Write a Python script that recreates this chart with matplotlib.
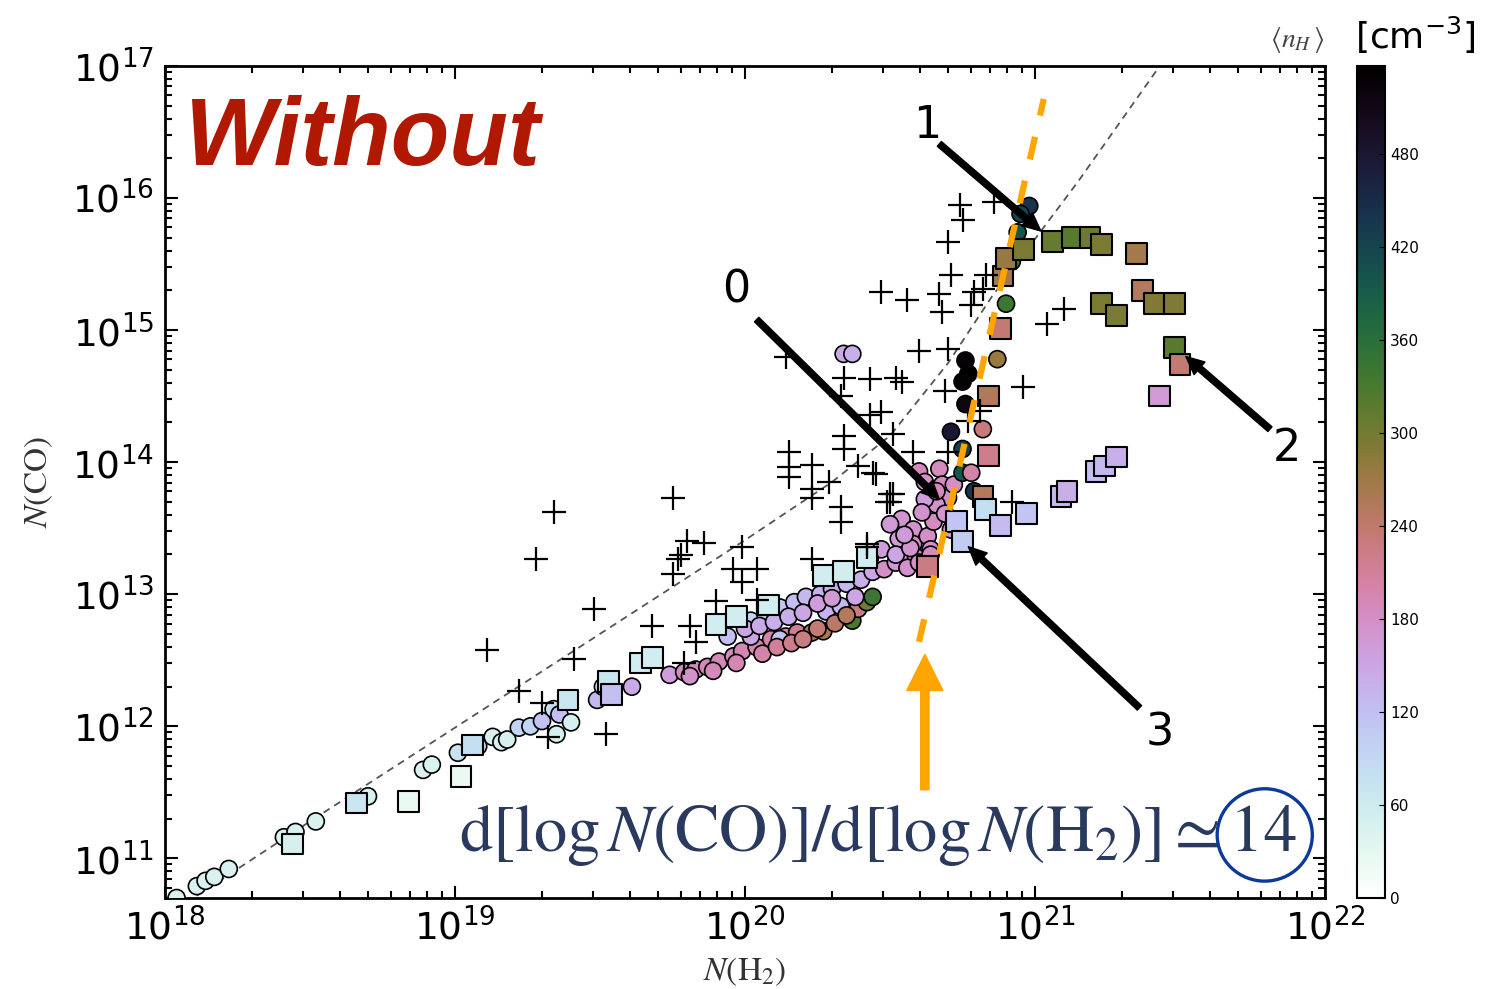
import matplotlib.pyplot as plt
import numpy as np
from matplotlib.colors import Normalize
from matplotlib.cm import ScalarMappable
from matplotlib.patches import Ellipse

# circles: log10 N(H2), log10 N(CO), <n_H> [cm^-3]
circ_x = [18.04, 18.11, 18.14, 18.17, 18.22, 18.41, 18.45, 18.52, 18.70, 18.89, 18.92,
          19.01, 19.08, 19.13, 19.16, 19.18, 19.22, 19.26, 19.30, 19.34, 19.36, 19.40, 19.35,
          19.49, 19.51, 19.61,
          19.74, 19.79, 19.83, 19.87, 19.91, 19.96, 19.99, 20.04, 20.09, 20.14, 20.18, 20.23,
          20.27, 20.37, 20.39, 20.42, 20.44,
          19.94, 20.02, 20.07, 20.12, 20.17, 20.21, 20.26, 20.30, 20.35, 20.40, 20.44, 20.48,
          20.52, 20.56,
          20.02, 20.12, 20.28, 20.33, 20.38,
          20.54, 20.58, 20.53, 20.58, 20.63, 20.65, 20.64, 20.59, 20.60, 20.67, 20.62, 20.68,
          20.70, 20.66, 20.69, 20.62, 20.50, 20.47, 20.52, 20.43, 20.71, 20.72,
          20.34, 20.37,
          20.77, 20.75, 20.76, 20.76, 20.71, 20.75, 20.82, 20.75, 20.78, 20.79,
          20.98, 20.94, 20.92, 20.90, 20.87, 20.95,
          19.81, 19.89, 19.97, 20.06, 20.11, 20.16, 20.20, 20.25, 20.31, 20.35,
          20.00, 20.05, 20.10, 20.15, 20.20, 20.25, 20.30,
          20.56, 20.60, 20.64, 20.57, 20.61, 20.66, 20.55]
circ_y = [10.70, 10.79, 10.83, 10.86, 10.92, 11.16, 11.20, 11.28, 11.47, 11.67, 11.71,
          11.80, 11.85, 11.92, 11.88, 11.90, 11.99, 12.00, 12.04, 12.13, 12.09, 12.03, 11.94,
          12.20, 12.30, 12.30,
          12.39, 12.41, 12.43, 12.45, 12.49, 12.53, 12.57, 12.60, 12.66, 12.68, 12.71, 12.71,
          12.72, 12.80, 12.89, 12.94, 12.98,
          12.68, 12.80, 12.85, 12.90, 12.94, 12.98, 13.00, 13.04, 13.08, 13.11, 13.17, 13.19,
          13.24, 13.28,
          12.68, 12.66, 12.87, 12.91, 12.98,
          13.57, 13.49, 13.42, 13.38, 13.44, 13.55, 13.34, 13.28, 13.93, 13.95, 13.85, 13.83,
          13.73, 13.68, 13.61, 13.72, 13.53, 13.34, 13.30, 13.27, 13.49, 13.83,
          14.82, 14.82,
          14.67, 14.61, 14.77, 14.44, 14.23, 14.10, 14.25, 13.92, 13.92, 13.78,
          15.94, 15.74, 15.52, 15.20, 14.78, 15.88,
          12.38, 12.42, 12.48, 12.55, 12.60, 12.63, 12.66, 12.74, 12.78, 12.84,
          12.74, 12.76, 12.79, 12.83, 12.86, 12.93, 12.97,
          13.20, 13.24, 13.30, 13.35, 13.62, 13.78, 13.45]
circ_n = [40, 45, 45, 45, 45, 45, 45, 45, 45, 45, 45,
          75, 75, 50, 50, 50, 95, 95, 115, 80, 120, 50, 50,
          130, 80, 145,
          160, 185, 190, 190, 190, 185, 195, 195, 200, 205, 215, 260,
          265, 330, 225, 300, 340,
          120, 95, 110, 110, 120, 130, 135, 140, 130, 140, 150, 180,
          165, 170,
          150, 115, 135, 130, 150,
          170, 175, 165, 185, 180, 185, 175, 170, 190, 185, 180, 185,
          180, 175, 170, 160, 165, 160, 150, 140, 165, 180,
          145, 140,
          535, 530, 530, 515, 480, 430, 230, 400, 200, 440,
          440, 400, 345, 340, 275, 420,
          175, 190, 195, 200, 210, 220, 225, 235, 245, 250,
          150, 145, 140, 140, 150, 160, 165,
          175, 180, 185, 170, 175, 190, 165]

# squares
sq_x = [18.44, 18.66, 18.84, 19.02, 19.06, 19.39, 19.53, 19.54, 19.64, 19.68, 19.90, 19.97,
        20.08, 20.27, 20.34, 20.42, 20.63, 20.84, 20.84, 20.82, 20.83, 20.88, 20.97, 20.73,
        20.75, 21.09, 21.11, 21.21, 21.24, 21.28, 20.88, 20.89, 20.90, 20.96, 21.06, 21.13,
        21.19, 21.23, 21.35, 21.37, 21.41, 21.48, 21.23, 21.28, 21.48, 21.50, 21.43]
sq_y = [11.11, 11.42, 11.43, 11.62, 11.86, 12.20, 12.34, 12.24, 12.48, 12.52, 12.77, 12.83,
        12.92, 13.14, 13.17, 13.28, 13.21, 14.50, 14.05, 13.74, 13.64, 13.52, 13.61, 13.55,
        13.40, 13.74, 13.78, 13.93, 13.97, 14.04, 15.01, 15.41, 15.54, 15.61, 15.67, 15.70,
        15.70, 15.65, 15.58, 15.30, 15.20, 15.20, 15.20, 15.11, 14.87, 14.74, 14.50]
sq_n = [50, 70, 25, 25, 80, 70, 70, 120, 55, 55, 55, 55,
        55, 55, 55, 55, 225, 255, 220, 250, 80, 125, 115, 115,
        105, 130, 140, 120, 130, 140, 235, 265, 275, 295, 310, 320,
        305, 295, 265, 250, 290, 290, 295, 295, 320, 235, 165]

# crosses
plus_x = [20.74, 20.75, 20.86, 20.70, 20.71, 20.83, 20.47, 20.56, 20.67, 20.68, 20.79, 20.78,
          20.82, 20.60, 20.70, 20.14, 20.34, 20.33, 20.43, 20.52, 20.54, 20.69, 20.43, 20.47,
          20.51, 20.34, 20.34, 20.58, 20.70, 20.15, 20.15, 20.23, 20.39, 20.44, 20.96, 20.81,
          20.77, 20.45, 20.51, 20.49, 20.92, 20.42, 21.04, 21.10, 19.80, 19.86, 19.78, 19.77,
          19.75, 19.99, 19.96, 20.04, 19.99, 19.48, 19.90, 20.04, 19.68, 19.81, 19.83, 20.23,
          20.42, 19.79, 19.75, 20.15, 20.23, 20.29, 20.23, 20.33, 20.33, 20.50, 20.50, 19.52,
          19.34, 19.28, 19.11, 19.41, 19.22, 19.30, 19.32]
plus_y = [15.95, 15.83, 15.97, 15.67, 15.42, 15.42, 15.29, 15.23, 15.27, 15.14, 15.29, 15.19,
          15.31, 14.84, 14.86, 14.80, 14.64, 14.50, 14.63, 14.64, 14.61, 14.54, 14.36, 14.38,
          14.21, 14.20, 14.10, 14.08, 14.08, 14.08, 13.96, 13.98, 13.97, 13.92, 14.57, 14.39,
          14.31, 13.91, 13.76, 13.70, 13.70, 13.36, 15.05, 15.16, 13.40, 13.39, 13.30, 13.27,
          13.15, 13.36, 13.19, 13.19, 13.09, 12.89, 12.95, 12.96, 12.76, 12.76, 12.64, 13.27,
          13.38, 12.48, 13.73, 13.89, 13.80, 13.85, 13.73, 13.66, 13.55, 13.76, 13.70, 11.94,
          13.62, 13.27, 12.58, 12.51, 12.27, 12.18, 11.92]

# grey dashed reference curve
fit_x = [18.0, 18.5, 19.0, 19.5, 20.0, 20.3, 20.5, 20.7, 20.85, 21.15, 21.43]
fit_y = [10.56, 11.28, 11.99, 12.70, 13.41, 13.85, 14.20, 14.75, 15.25, 16.13, 17.0]

# orange steep slope line
slope_x = [20.60, 21.03]
slope_y = [12.64, 16.75]

nh_min, nh_max = 0, 537
cbar_ticks = [0, 60, 120, 180, 240, 300, 360, 420, 480]

fig = plt.figure(figsize=(14.85, 9.89), dpi=100)
ax = fig.add_axes([0.1111, 0.092, 0.7812, 0.8413])
cmap = plt.get_cmap('cubehelix_r')
norm = Normalize(nh_min, nh_max)

ax.plot(10**np.array(fit_x), 10**np.array(fit_y), ls=(0, (4, 3)), color='#555555', lw=1.3, zorder=1)
ax.scatter(10**np.array(circ_x), 10**np.array(circ_y), c=circ_n, cmap=cmap, norm=norm,
           s=150, marker='o', edgecolors='k', linewidths=1.2, zorder=3)
ax.scatter(10**np.array(sq_x), 10**np.array(sq_y), c=sq_n, cmap=cmap, norm=norm,
           s=220, marker='s', edgecolors='k', linewidths=1.5, zorder=3)
ax.scatter(10**np.array(plus_x), 10**np.array(plus_y), c='k', s=300, marker='+',
           linewidths=1.6, zorder=4)
ax.plot(10**np.array(slope_x), 10**np.array(slope_y), color='orange', lw=4.5,
        ls=(0, (3.7, 3.5)), zorder=5)

ax.set_xscale('log')
ax.set_yscale('log')
ax.set_xlim(1e18, 1e22)
ax.set_ylim(10**10.7, 1e17)
ax.tick_params(which='both', direction='in', top=True, right=True, width=1.5)
ax.tick_params(which='major', length=9, labelsize=27, pad=8)
ax.tick_params(which='minor', length=5)
for sp in ax.spines.values():
    sp.set_linewidth(2)

ax.set_ylabel(r'$N(\mathrm{CO})$', fontsize=24, math_fontfamily='stix', color='#333333')
ax.yaxis.set_label_coords(-0.095, 0.5)
ax.set_xlabel(r'$N(\mathrm{H_2})$', fontsize=24, math_fontfamily='stix', color='#333333')
ax.xaxis.set_label_coords(0.5, -0.068)

# numbered black arrows (head, tail, label position)
arrows = [('0', (20.67, 13.72), (20.04, 15.08), (19.97, 15.30)),
          ('1', (21.02, 15.75), (20.67, 16.41), (20.63, 16.55)),
          ('2', (21.52, 14.80), (21.81, 14.25), (21.87, 14.10)),
          ('3', (20.77, 13.36), (21.36, 12.14), (21.43, 11.95))]
for lab, head, tail, tpos in arrows:
    ax.annotate('', xy=(10**head[0], 10**head[1]), xytext=(10**tail[0], 10**tail[1]),
                arrowprops=dict(facecolor='k', edgecolor='k', width=4.5, headwidth=12,
                                headlength=13, shrink=0), zorder=6)
    ax.text(10**tpos[0], 10**tpos[1], lab, fontsize=32, ha='center', va='center', zorder=6)

# orange arrow
ax.annotate('', xy=(10**20.62, 10**12.545), xytext=(10**20.62, 10**11.52),
            arrowprops=dict(facecolor='orange', edgecolor='orange', width=6, headwidth=26,
                            headlength=26, shrink=0), zorder=6)

ax.text(0.614, 0.0758, r'$\mathrm{d[log}\,N\mathrm{(CO)]/d[log}\,N\mathrm{(H_2)]}\simeq\mathrm{14}$',
        transform=ax.transAxes, fontsize=48, math_fontfamily='stix', color='#2a3a5e',
        ha='center', va='center', zorder=6)
ax.add_patch(Ellipse((0.948, 0.0758), 0.082, 0.111, transform=ax.transAxes, fill=False,
                     edgecolor='#0a3a9a', lw=2.4, zorder=6))

fig.text(185 / 1485, 1 - 140 / 989, 'Without', fontsize=69, fontweight='bold', fontstyle='italic',
         family='Liberation Sans', color='#B01800', va='center', ha='left')

# colorbar
cax = fig.add_axes([1357 / 1485, 0.092, 28 / 1485, 0.8413])
cb = fig.colorbar(ScalarMappable(norm=norm, cmap=cmap), cax=cax, ticks=cbar_ticks)
cb.ax.tick_params(labelsize=11, direction='in', length=4)
cb.outline.set_linewidth(1.5)
fig.text(1297 / 1485, 1 - 40 / 989, r'$\langle n_H\,\rangle$', fontsize=20, math_fontfamily='stix',
         color='#444444', ha='center', va='center')
fig.text(1415 / 1485, 1 - 35 / 989, r'[cm$^{-3}$]', fontsize=26, ha='center', va='center')

fig.savefig('out.png', dpi=100)
